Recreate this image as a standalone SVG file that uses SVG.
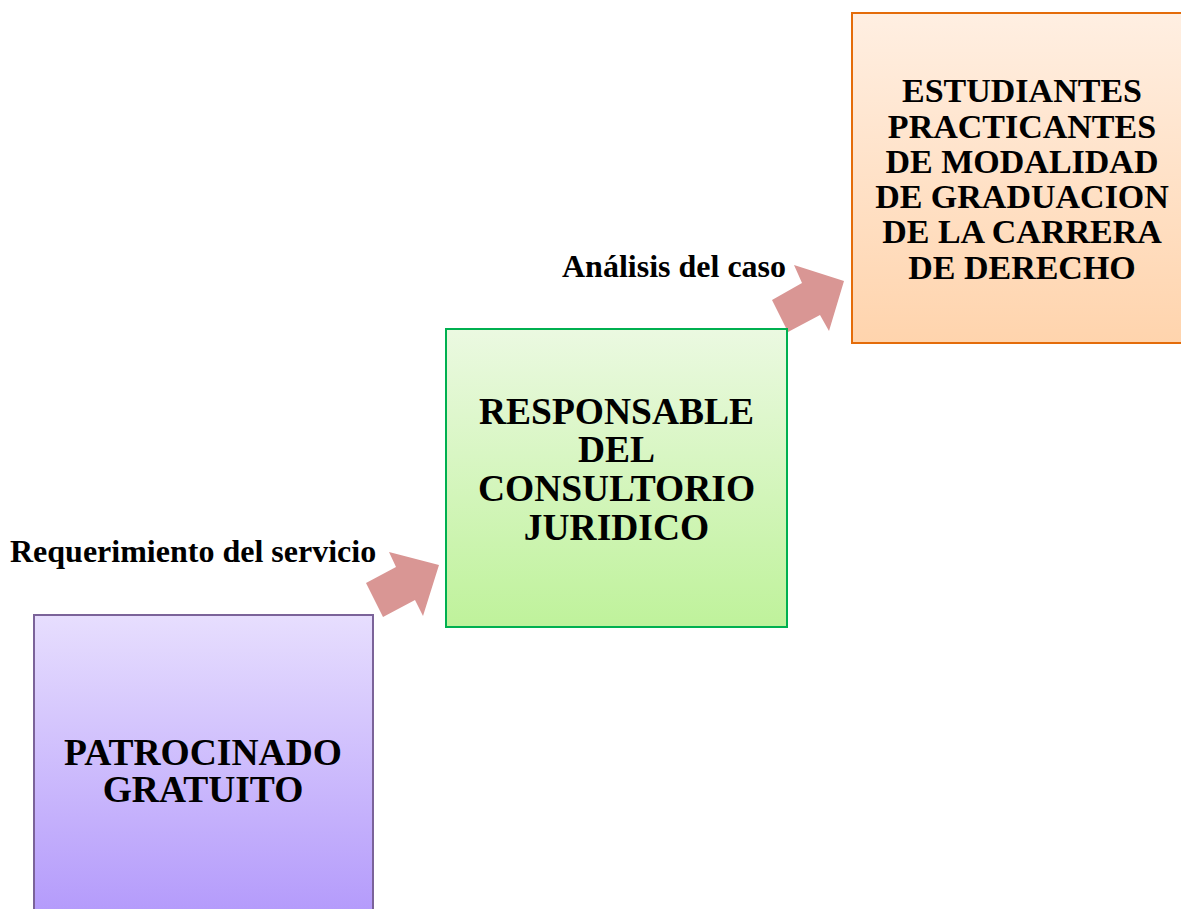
<svg xmlns="http://www.w3.org/2000/svg" width="1181" height="909" viewBox="0 0 1181 909">
<defs>
<linearGradient id="gP" x1="0" y1="0" x2="0" y2="1"><stop offset="0" stop-color="#e7defe"/><stop offset="1" stop-color="#b298fb"/></linearGradient>
<linearGradient id="gG" x1="0" y1="0" x2="0" y2="1"><stop offset="0" stop-color="#ebf9e1"/><stop offset="1" stop-color="#bff29b"/></linearGradient>
<linearGradient id="gO" x1="0" y1="0" x2="0" y2="1"><stop offset="0" stop-color="#ffefe2"/><stop offset="1" stop-color="#ffd4ad"/></linearGradient>
</defs>
<style>
text{font-family:"Liberation Serif","Times New Roman",serif;font-weight:bold;fill:#000}
.box{text-anchor:middle;font-size:37.5px}
.box2{text-anchor:middle;font-size:34px}
.lbl{font-size:32px}
.arr{fill:#d99694}
</style>
<rect width="1181" height="909" fill="#fff"/>
<g id="connectors">
<polygon class="arr" points="366,583 396,567 389,552 439,565 423,616 415,600 383,617"/>
<polygon class="arr" points="772,300 802,283 794,265 844,281 829,331 820,315 788,332"/>
<text class="lbl" x="10" y="562">Requerimiento del servicio</text>
<text class="lbl" x="562" y="277">Análisis del caso</text>
</g>
<g id="patrocinado">
<rect x="34" y="615" width="339" height="310" fill="url(#gP)" stroke="#7b6399" stroke-width="2"/>
<text class="box" x="203" y="765">PATROCINADO</text>
<text class="box" x="203" y="802">GRATUITO</text>
</g>
<g id="responsable">
<rect x="446" y="329" width="341" height="298" fill="url(#gG)" stroke="#00b050" stroke-width="2"/>
<text class="box" x="616.5" y="424">RESPONSABLE</text>
<text class="box" x="616.5" y="462">DEL</text>
<text class="box" x="616.5" y="501">CONSULTORIO</text>
<text class="box" x="616.5" y="540">JURIDICO</text>
</g>
<g id="estudiantes">
<rect x="852" y="13" width="340" height="330" fill="url(#gO)" stroke="#e46c0a" stroke-width="2"/>
<text class="box2" x="1022" y="102">ESTUDIANTES</text>
<text class="box2" x="1022" y="138">PRACTICANTES</text>
<text class="box2" x="1022" y="173">DE MODALIDAD</text>
<text class="box2" x="1022" y="208">DE GRADUACION</text>
<text class="box2" x="1022" y="243">DE LA CARRERA</text>
<text class="box2" x="1022" y="279">DE DERECHO</text>
</g>
</svg>
